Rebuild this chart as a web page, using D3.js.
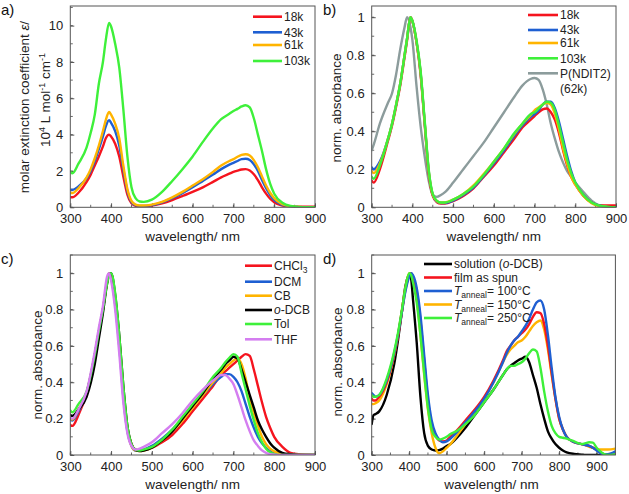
<!DOCTYPE html>
<html><head><meta charset="utf-8">
<script src="https://cdn.jsdelivr.net/npm/d3@7"></script>
<style>
html,body{margin:0;padding:0;background:#fff;}
svg{display:block;font-family:"Liberation Sans",Arial,sans-serif;}
</style></head>
<body>
<svg id="c" width="629" height="494"></svg>
<script>
// ---------- DATA ----------
const wlAB = [300,305,320,340,350,360,370,380,387,395,400,410,420,430,440,450,460,470,480,500,525,550,575,600,625,650,670,690,700,710,720,730,740,750,760,770,780,790,800,820,840,860,880,900];

// panel a: molar extinction coefficient (10^4 L mol^-1 cm^-1)
const a18k  = [0.55,0.55,0.8,1.4,1.8,2.3,2.8,3.35,3.8,4.0,3.9,3.5,2.8,1.7,0.7,0.22,0.08,0.05,0.05,0.1,0.22,0.4,0.62,0.85,1.1,1.4,1.65,1.85,1.95,2.02,2.08,2.1,2.02,1.82,1.5,1.1,0.75,0.47,0.28,0.09,0.04,0.03,0.03,0.03];
const a43k  = [0.95,0.95,1.15,1.6,2.0,2.55,3.2,3.9,4.45,4.8,4.65,4.2,3.4,2.1,0.9,0.3,0.12,0.08,0.08,0.12,0.27,0.5,0.78,1.1,1.45,1.8,2.1,2.35,2.45,2.55,2.65,2.67,2.6,2.37,2.0,1.5,1.05,0.68,0.4,0.13,0.04,0.01,0.0,0.0];
const a61k  = [0.8,0.78,1.05,1.65,2.1,2.7,3.4,4.2,4.8,5.25,5.1,4.6,3.8,2.3,1.0,0.35,0.15,0.1,0.1,0.15,0.3,0.55,0.85,1.2,1.55,1.95,2.3,2.55,2.65,2.78,2.88,2.92,2.85,2.6,2.2,1.7,1.2,0.8,0.5,0.17,0.05,0.02,0.01,0.01];
const a103k = [1.95,1.87,2.4,3.3,4.1,5.1,6.8,8.0,9.2,10.15,9.95,9.0,7.7,5.4,2.8,1.1,0.5,0.32,0.3,0.42,0.85,1.45,2.1,2.8,3.6,4.35,4.85,5.15,5.3,5.42,5.55,5.62,5.5,4.9,4.0,3.1,2.1,1.3,0.75,0.25,0.07,0.02,0.01,0.01];

// panel b: normalised absorbance
const b18k  = [0.14,0.13,0.2,0.35,0.43,0.53,0.64,0.78,0.88,1.0,0.98,0.87,0.7,0.44,0.18,0.06,0.027,0.02,0.02,0.033,0.06,0.1,0.16,0.22,0.29,0.36,0.42,0.46,0.48,0.5,0.515,0.52,0.5,0.46,0.39,0.3,0.22,0.16,0.12,0.06,0.025,0.01,0.01,0.01];
const b43k  = [0.21,0.2,0.24,0.36,0.44,0.54,0.65,0.79,0.89,1.0,0.98,0.87,0.71,0.45,0.19,0.065,0.03,0.022,0.022,0.035,0.065,0.105,0.165,0.23,0.3,0.375,0.43,0.475,0.49,0.51,0.54,0.555,0.555,0.52,0.45,0.36,0.27,0.19,0.13,0.065,0.025,0.008,0.002,0.0];
const b61k  = [0.19,0.18,0.23,0.36,0.44,0.54,0.65,0.79,0.89,1.0,0.98,0.87,0.71,0.45,0.19,0.065,0.032,0.025,0.026,0.04,0.07,0.115,0.175,0.24,0.31,0.385,0.44,0.485,0.51,0.525,0.54,0.55,0.54,0.49,0.41,0.31,0.23,0.16,0.12,0.06,0.022,0.006,0.002,0.0];
const b103k = [0.16,0.15,0.22,0.36,0.44,0.54,0.65,0.79,0.89,1.0,0.98,0.88,0.72,0.46,0.2,0.07,0.035,0.025,0.025,0.04,0.07,0.11,0.17,0.24,0.31,0.39,0.44,0.49,0.5,0.52,0.54,0.555,0.55,0.51,0.43,0.34,0.25,0.18,0.13,0.065,0.025,0.008,0.002,0.0];
const bNDIT = [0.30,0.33,0.44,0.55,0.60,0.70,0.83,0.94,1.0,0.95,0.88,0.64,0.43,0.27,0.14,0.065,0.055,0.065,0.08,0.13,0.2,0.27,0.34,0.42,0.5,0.58,0.64,0.675,0.68,0.67,0.62,0.54,0.44,0.36,0.29,0.235,0.19,0.16,0.13,0.08,0.035,0.01,0.003,0.0];

// panel c: solvents
const wlC = [300,305,320,340,360,370,380,390,395,400,410,420,430,440,450,460,470,480,500,525,550,575,600,625,650,670,680,690,700,710,720,730,740,750,760,770,780,790,800,820,840,860,900];
const cCHCl3 = [0.165,0.16,0.22,0.34,0.55,0.68,0.80,0.95,1.0,0.99,0.86,0.64,0.36,0.15,0.06,0.03,0.025,0.028,0.04,0.07,0.11,0.17,0.24,0.31,0.38,0.44,0.46,0.48,0.50,0.52,0.54,0.555,0.545,0.47,0.38,0.29,0.21,0.15,0.10,0.045,0.012,0.004,0];
const cDCM   = [0.195,0.19,0.24,0.34,0.55,0.68,0.80,0.95,1.0,0.98,0.83,0.60,0.32,0.13,0.05,0.025,0.025,0.03,0.05,0.09,0.14,0.20,0.27,0.33,0.39,0.43,0.445,0.445,0.43,0.40,0.35,0.28,0.21,0.15,0.10,0.065,0.04,0.02,0.01,0.003,0,0,0];
const cCB    = [0.20,0.195,0.25,0.34,0.55,0.68,0.80,0.95,1.0,0.99,0.85,0.62,0.34,0.14,0.05,0.025,0.022,0.025,0.04,0.08,0.13,0.19,0.26,0.33,0.40,0.45,0.48,0.50,0.52,0.53,0.50,0.42,0.31,0.23,0.16,0.10,0.06,0.035,0.02,0.005,0,0,0];
const cODCB  = [0.22,0.215,0.25,0.32,0.50,0.64,0.78,0.94,0.99,1.0,0.88,0.66,0.38,0.16,0.06,0.028,0.022,0.025,0.04,0.08,0.13,0.20,0.27,0.34,0.42,0.47,0.50,0.52,0.54,0.53,0.47,0.40,0.33,0.26,0.19,0.14,0.10,0.065,0.04,0.012,0.004,0,0];
const cTol   = [0.245,0.235,0.28,0.35,0.55,0.68,0.80,0.94,0.99,1.0,0.89,0.66,0.38,0.16,0.06,0.03,0.025,0.03,0.045,0.085,0.14,0.21,0.28,0.35,0.43,0.48,0.51,0.535,0.555,0.54,0.45,0.36,0.27,0.19,0.12,0.07,0.035,0.015,0.005,0,0,0,0];
const cTHF   = [0.205,0.20,0.25,0.35,0.57,0.70,0.82,0.98,1.0,0.96,0.80,0.56,0.29,0.12,0.05,0.03,0.035,0.045,0.07,0.12,0.17,0.23,0.30,0.36,0.41,0.44,0.44,0.42,0.39,0.33,0.26,0.19,0.13,0.08,0.05,0.025,0.012,0.005,0.002,0,0,0,0];

// panel d: solution vs films
const wlD = [300,305,310,320,340,360,370,380,390,400,405,410,420,430,440,450,460,470,480,490,500,510,525,550,575,600,625,650,660,670,680,690,700,710,720,730,740,750,760,770,780,790,800,810,820,840,860,870,880,890,900,910,920,930,950];
const dSol  = [0.17,0.22,0.225,0.24,0.33,0.50,0.63,0.78,0.93,0.99,0.97,0.86,0.62,0.32,0.12,0.05,0.03,0.025,0.027,0.035,0.05,0.06,0.09,0.15,0.22,0.29,0.36,0.44,0.47,0.49,0.505,0.52,0.53,0.54,0.51,0.44,0.37,0.28,0.20,0.13,0.09,0.06,0.04,0.025,0.015,0.006,0.002,0,0,0,0,0,0,0,0];
const dFilm = [0.31,0.30,0.30,0.32,0.40,0.55,0.65,0.78,0.91,0.99,1.0,0.98,0.90,0.74,0.52,0.30,0.17,0.11,0.08,0.075,0.08,0.10,0.13,0.19,0.25,0.32,0.41,0.52,0.57,0.60,0.63,0.65,0.67,0.69,0.72,0.76,0.785,0.78,0.72,0.60,0.45,0.31,0.20,0.14,0.10,0.07,0.06,0.055,0.05,0.04,0.03,0.015,0.005,0.005,0.01];
const d100  = [0.34,0.33,0.32,0.33,0.41,0.56,0.66,0.78,0.90,0.98,1.0,0.99,0.92,0.77,0.55,0.33,0.19,0.12,0.085,0.07,0.075,0.09,0.12,0.18,0.24,0.31,0.40,0.51,0.56,0.60,0.63,0.65,0.68,0.71,0.75,0.80,0.84,0.85,0.80,0.66,0.48,0.32,0.21,0.14,0.10,0.07,0.06,0.055,0.05,0.04,0.025,0.01,0.005,0.005,0.02];
const d150  = [0.28,0.28,0.285,0.30,0.39,0.55,0.66,0.79,0.92,1.0,1.0,0.97,0.86,0.66,0.44,0.25,0.12,0.04,0.01,0.02,0.04,0.06,0.10,0.17,0.24,0.31,0.40,0.51,0.55,0.58,0.60,0.62,0.63,0.65,0.68,0.71,0.73,0.74,0.69,0.58,0.44,0.31,0.20,0.14,0.10,0.07,0.06,0.055,0.045,0.04,0.03,0.03,0.03,0.03,0.035];
const d250  = [0.33,0.32,0.32,0.33,0.42,0.57,0.67,0.79,0.92,1.0,0.99,0.95,0.84,0.66,0.45,0.26,0.14,0.10,0.085,0.09,0.10,0.115,0.13,0.17,0.22,0.29,0.36,0.44,0.47,0.49,0.49,0.50,0.51,0.53,0.56,0.58,0.57,0.48,0.35,0.24,0.16,0.12,0.10,0.095,0.09,0.075,0.06,0.065,0.07,0.068,0.04,0.02,0.005,0,0.005];

const C = {red:"#f5141e", blue:"#1e5fd2", orange:"#ffb400", green:"#3ef03a", grey:"#8c9c9c", black:"#000", violet:"#d47ef0"};

// ---------- DRAW ----------
const svg = d3.select("#c");

function panel(o){
  const g = svg.append("g");
  const x = d3.scaleLinear().domain(o.xd).range([o.l, o.r]);
  const y = d3.scaleLinear().domain(o.yd).range([o.b, o.t]);
  // minor ticks
  const xMinor = d3.range(o.xd[0], o.xd[1]+1e-9, 50);
  const yMinor = d3.range(0, o.yd[1]+1e-9, o.ystep/2);
  g.append("g").selectAll("line").data(xMinor).join("line")
    .attr("x1", d=>x(d)).attr("x2", d=>x(d)).attr("y1", o.b).attr("y2", o.b-2.5)
    .attr("stroke","#444").attr("stroke-width",0.8);
  g.append("g").selectAll("line").data(yMinor).join("line")
    .attr("y1", d=>y(d)).attr("y2", d=>y(d)).attr("x1", o.l).attr("x2", o.l+2.5)
    .attr("stroke","#444").attr("stroke-width",0.8);
  // axes
  const xa = d3.axisBottom(x).tickValues(o.xticks).tickSize(-4).tickPadding(7).tickFormat(d3.format("d"));
  const ya = d3.axisLeft(y).tickValues(o.yticks).tickSize(-4).tickPadding(7).tickFormat(o.yfmt);
  const gx = g.append("g").attr("transform",`translate(0,${o.b})`).call(xa);
  const gy = g.append("g").attr("transform",`translate(${o.l},0)`).call(ya);
  [gx,gy].forEach(a=>{
    a.select(".domain").remove();
    a.selectAll("line").attr("stroke","#444").attr("stroke-width",0.9);
    a.selectAll("text").attr("font-size",13).attr("fill","#222").attr("font-family","Liberation Sans, Arial, sans-serif");
  });
  gx.selectAll("text").attr("dy","0.7em");
  // clip
  const cid = "clip"+o.id;
  svg.append("clipPath").attr("id",cid).append("rect")
    .attr("x",o.l).attr("y",o.t).attr("width",o.r-o.l).attr("height",o.b-o.t);
  const line = d3.line().x(d=>x(d[0])).y(d=>y(d[1])).curve(d3.curveMonotoneX);
  const lg = g.append("g").attr("clip-path",`url(#${cid})`);
  o.series.forEach(s=>{
    lg.append("path").attr("d", line(o.wl.map((w,i)=>[w,s.v[i]])))
      .attr("fill","none").attr("stroke",s.c).attr("stroke-width",2.4)
      .attr("stroke-linejoin","round").attr("stroke-linecap","round");
  });
  // frame
  g.append("rect").attr("x",o.l).attr("y",o.t).attr("width",o.r-o.l).attr("height",o.b-o.t)
    .attr("fill","none").attr("stroke","#555").attr("stroke-width",1);
  // panel label
  svg.append("text").attr("x",o.lab[0]).attr("y",o.lab[1]).attr("font-size",15).attr("fill","#111").text(o.id+")");
  // x title
  svg.append("text").attr("x",(o.l+o.r)/2 + (o.xtOff||0)).attr("y",o.b+34).attr("text-anchor","middle")
    .attr("font-size",13.5).attr("fill","#222").text("wavelength/ nm");
  // legend
  const leg = svg.append("g");
  o.legend.forEach(it=>{
    leg.append("line").attr("x1",o.legX[0]).attr("x2",o.legX[1]).attr("y1",it.y).attr("y2",it.y)
      .attr("stroke",it.c).attr("stroke-width",2.6);
    const t = leg.append("text").attr("x",o.legX[1]+2).attr("y",it.y+4.3).attr("font-size",12).attr("fill","#222");
    it.parts.forEach(p=>{
      const ts = t.append("tspan").text(p.t);
      if(p.i) ts.attr("font-style","italic");
      if(p.sub){ ts.attr("font-size",8.5).attr("dy",3); }
      if(p.up){ ts.attr("dy",-3); }
    });
  });
  return {x,y};
}

// helper for legend entries
const P = s=>[{t:s}];

// panel a
panel({id:"a", l:70.3, r:315, t:6, b:207.3, xd:[300,900], yd:[0,11.08], ystep:2,
  xticks:[300,400,500,600,700,800,900], yticks:[0,2,4,6,8,10], yfmt:d3.format("d"),
  wl:wlAB, lab:[1,15],
  series:[{v:a18k,c:C.red},{v:a43k,c:C.blue},{v:a61k,c:C.orange},{v:a103k,c:C.green}],
  legX:[253,282],
  legend:[{y:16.7,c:C.red,parts:P("18k")},{y:32.3,c:C.blue,parts:P("43k")},{y:45,c:C.orange,parts:P("61k")},{y:61,c:C.green,parts:P("103k")}]
});
// panel b
panel({id:"b", l:371.7, r:616, t:6, b:207.3, xd:[300,900], yd:[0,1.059], ystep:0.2,
  xticks:[300,400,500,600,700,800,900], yticks:[0,0.2,0.4,0.6,0.8,1], yfmt:d=>d===0||d===1?d3.format("d")(d):d3.format(".1f")(d),
  wl:wlAB, lab:[323,15],
  series:[{v:bNDIT,c:C.grey},{v:b18k,c:C.red},{v:b43k,c:C.blue},{v:b61k,c:C.orange},{v:b103k,c:C.green}],
  legX:[528,558],
  legend:[{y:15,c:C.red,parts:P("18k")},{y:30,c:C.blue,parts:P("43k")},{y:43,c:C.orange,parts:P("61k")},{y:58.3,c:C.green,parts:P("103k")},{y:73.3,c:C.grey,parts:P("P(NDIT2)")}]
});
svg.append("text").attr("x",560).attr("y",93).attr("font-size",12).attr("fill","#222").text("(62k)");
// panel c
panel({id:"c", l:70.3, r:315, t:255, b:455, xd:[300,900], yd:[0,1.1], ystep:0.2,
  xticks:[300,400,500,600,700,800,900], yticks:[0,0.2,0.4,0.6,0.8,1], yfmt:d=>d===0||d===1?d3.format("d")(d):d3.format(".1f")(d),
  wl:wlC, lab:[1,264],
  series:[{v:cCHCl3,c:C.red},{v:cDCM,c:C.blue},{v:cCB,c:C.orange},{v:cODCB,c:C.black},{v:cTol,c:C.green},{v:cTHF,c:C.violet}],
  legX:[245,272],
  legend:[{y:265.7,c:C.red,parts:[{t:"CHCl"},{t:"3",sub:true}]},{y:281.7,c:C.blue,parts:P("DCM")},{y:295.7,c:C.orange,parts:P("CB")},
          {y:310,c:C.black,parts:[{t:"o",i:true},{t:"-DCB"}]},{y:324,c:C.green,parts:P("Tol")},{y:339.3,c:C.violet,parts:P("THF")}]
});
// panel d
panel({id:"d", l:371.7, r:615.4, t:255, b:455, xd:[300,950], yd:[0,1.1], ystep:0.2,
  xticks:[300,400,500,600,700,800,900], yticks:[0,0.2,0.4,0.6,0.8,1], yfmt:d=>d===0||d===1?d3.format("d")(d):d3.format(".1f")(d),
  wl:wlD, lab:[323,264], xtOff:-2,
  series:[{v:dSol,c:C.black},{v:d150,c:C.orange},{v:dFilm,c:C.red},{v:d100,c:C.blue},{v:d250,c:C.green}],
  legX:[424,452],
  legend:[{y:264,c:C.black,parts:[{t:"solution ("},{t:"o",i:true},{t:"-DCB)"}]},
          {y:277.5,c:C.red,parts:P("film as spun")},
          {y:291,c:C.blue,parts:[{t:"T",i:true},{t:"anneal",sub:true},{t:"= 100°C",up:true}]},
          {y:304.5,c:C.orange,parts:[{t:"T",i:true},{t:"anneal",sub:true},{t:"= 150°C",up:true}]},
          {y:318,c:C.green,parts:[{t:"T",i:true},{t:"anneal",sub:true},{t:"= 250°C",up:true}]}]
});

// y-axis titles
const ya1 = svg.append("text").attr("transform","translate(29,107) rotate(-90)").attr("text-anchor","middle")
  .attr("font-size",13.5).attr("fill","#222");
ya1.append("tspan").text("molar extinction coefficient ");
ya1.append("tspan").attr("font-style","italic").text("ε");
ya1.append("tspan").text("/");
const ya2 = svg.append("text").attr("transform","translate(50,100) rotate(-90)").attr("text-anchor","middle")
  .attr("font-size",13.5).attr("fill","#222");
ya2.append("tspan").text("10");
ya2.append("tspan").attr("font-size",9).attr("dy",-5).text("4");
ya2.append("tspan").attr("dy",5).text(" L mol");
ya2.append("tspan").attr("font-size",9).attr("dy",-5).text("-1");
ya2.append("tspan").attr("dy",5).text(" cm");
ya2.append("tspan").attr("font-size",9).attr("dy",-5).text("-1");
[[341,108],[42,365],[342,362]].forEach(p=>{
  svg.append("text").attr("transform",`translate(${p[0]},${p[1]}) rotate(-90)`).attr("text-anchor","middle")
    .attr("font-size",13.5).attr("fill","#222").text("norm. absorbance");
});
</script>
</body></html>
